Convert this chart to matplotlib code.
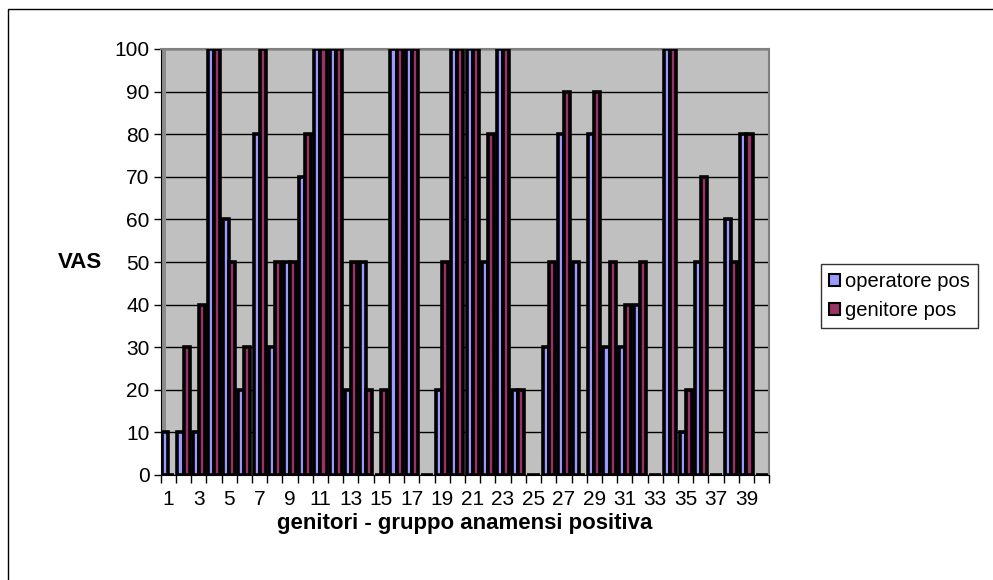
import numpy as np
import matplotlib
matplotlib.use("Agg")
import matplotlib.pyplot as plt
from matplotlib.patches import Rectangle
from matplotlib.ticker import FixedLocator, NullFormatter

plt.rcParams['font.family'] = ['Liberation Sans', 'DejaVu Sans']

categories = list(range(1, 41))
operatore_pos = [10, 10, 10, 100, 60, 20, 80, 30, 50, 70,
                 100, 100, 20, 50, 0, 100, 100, 0, 20, 100,
                 100, 50, 100, 20, 0, 30, 80, 50, 80, 30,
                 30, 40, 0, 100, 10, 50, 0, 60, 80, 0]
genitore_pos = [0, 30, 40, 100, 50, 30, 100, 50, 50, 80,
                100, 100, 50, 20, 20, 100, 100, 0, 50, 100,
                100, 80, 100, 20, 0, 50, 90, 0, 90, 50,
                40, 50, 0, 100, 20, 70, 0, 50, 80, 0]
series_names = ["operatore pos", "genitore pos"]
y_ticks = list(range(0, 101, 10))

W, H = 993, 580
fig = plt.figure(figsize=(W / 100, H / 100), dpi=100)
fig.patch.set_facecolor('white')

# outer chart frame (left and top edges)
fig.add_artist(Rectangle((8 / W, -0.2), 2.0, (H - 9) / H + 0.2,
                         transform=fig.transFigure, fill=False,
                         edgecolor='black', linewidth=1.0))

left, right = 160.7 / W, 769.3 / W
bottom, top = 1 - 475 / H, 1 - 49 / H
ax = fig.add_axes([left, bottom, right - left, top - bottom])
ax.set_facecolor('#C0C0C0')

# shaded side of the back wall
ax.add_patch(Rectangle((0, 0), 5 / (right - left) / W, 1, transform=ax.transAxes,
                       facecolor='#8C8C8C', edgecolor='none', zorder=1.5))

x = np.arange(len(categories))
w = 0.4
ax.bar(x - w / 2, operatore_pos, width=w, color='#9999FF',
       edgecolor='black', linewidth=2.6, label=series_names[0], zorder=3)
ax.bar(x + w / 2, genitore_pos, width=w, color='#993366',
       edgecolor='black', linewidth=2.6, label=series_names[1], zorder=3)

ax.set_xlim(-0.5, len(categories) - 0.5)
ax.set_ylim(0, 100)
ax.set_yticks(y_ticks)
ax.yaxis.grid(True, color='black', linewidth=1.0, zorder=1)
ax.set_axisbelow(True)

# category labels on every other group, tick marks between groups
ax.set_xticks(x[::2])
ax.set_xticklabels([str(c) for c in categories[::2]])
ax.xaxis.set_minor_locator(FixedLocator(np.arange(-0.5, len(categories), 1.0)))
ax.xaxis.set_minor_formatter(NullFormatter())
ax.tick_params(axis='x', which='major', length=0, pad=11, labelsize=15)
ax.tick_params(axis='x', which='minor', length=6, width=1, color='black',
               direction='out')
ax.tick_params(axis='y', length=5, width=1, direction='out', pad=3,
               labelsize=15)

for s in ('top', 'right'):
    ax.spines[s].set_color('#808080')
    ax.spines[s].set_linewidth(1.5)
ax.spines['left'].set_color('black')
ax.spines['bottom'].set_color('black')

ax.set_xlabel("genitori - gruppo anamensi positiva", fontsize=16,
              fontweight='bold', labelpad=3)
fig.text(80 / W, 1 - 262 / H, "VAS", fontsize=16, fontweight='bold',
         ha='center', va='center')

leg = fig.legend(loc='upper left', bbox_to_anchor=(821 / W, 1 - 264 / H),
                 bbox_transform=fig.transFigure, fontsize=14.5,
                 frameon=True, fancybox=False, edgecolor='black',
                 handlelength=0.55, handleheight=0.55, handletextpad=0.25,
                 borderpad=0.4, labelspacing=0.5, borderaxespad=0)
leg.get_frame().set_linewidth(1.0)
for h in leg.legend_handles:
    h.set_linewidth(1.5)

fig.savefig("out.png", dpi=100)
